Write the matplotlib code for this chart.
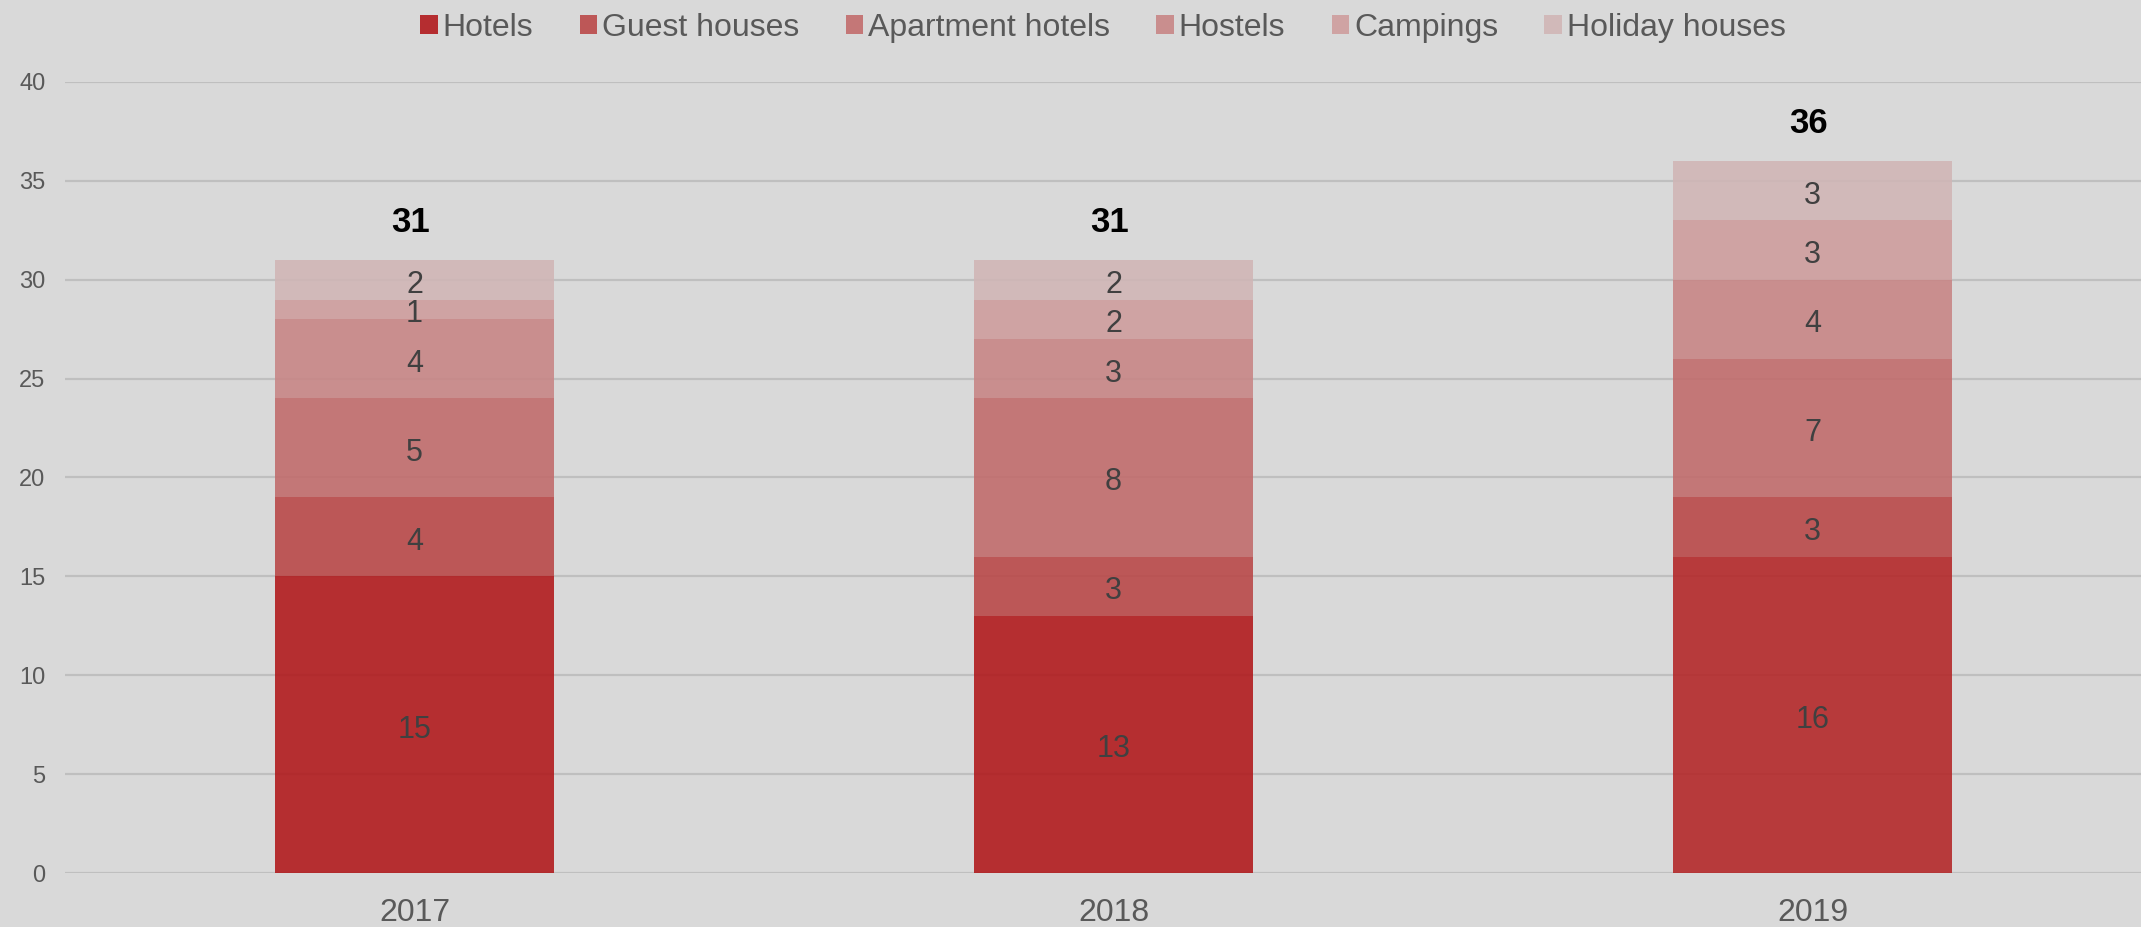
import matplotlib.pyplot as plt
import matplotlib.colors as mcolors
import numpy as np

plt.rcParams['font.family'] = ['Liberation Sans', 'DejaVu Sans']

years = ['2017', '2018', '2019']
categories = ['Hotels', 'Guest houses', 'Apartment hotels', 'Hostels', 'Campings', 'Holiday houses']
hotels = [15, 13, 16]
guest_houses = [4, 3, 3]
apartment_hotels = [5, 8, 7]
hostels = [4, 3, 4]
campings = [1, 2, 3]
holiday_houses = [2, 2, 3]
series = [hotels, guest_houses, apartment_hotels, hostels, campings, holiday_houses]
colors = [['#b52d30', '#b52d30', '#b83a3b'], '#bd5757', '#c47777', '#c98e8e', '#cfa3a3', '#d1b9b9']

bg = '#d9d9d9'
ALPHA = 0.88


def unblend(c):
    # base colour that gives c once laid at ALPHA over the background
    c = np.array(mcolors.to_rgb(c))
    b = np.array(mcolors.to_rgb(bg))
    return tuple(np.clip((c - (1 - ALPHA) * b) / ALPHA, 0, 1))


fig = plt.figure(figsize=(21.41, 9.27), dpi=100, facecolor=bg)
ax = fig.add_axes([65 / 2141, 1 - 873 / 927, 1 - 65 / 2141, (873 - 82) / 927])
ax.set_facecolor(bg)

x = np.arange(len(years))
bottom = np.zeros(len(years))
for name, vals, col in zip(categories, series, colors):
    vals = np.array(vals, dtype=float)
    if isinstance(col, list):
        fc = [unblend(c) for c in col]
    else:
        fc = unblend(col)
    ax.bar(x, vals, 0.4, bottom=bottom, color=fc, alpha=ALPHA, zorder=2)
    ax.bar([np.nan], [np.nan], color=col[0] if isinstance(col, list) else col, label=name)
    for xi, b, v in zip(x, bottom, vals):
        ax.annotate(f'{int(v)}', (xi, b + v / 2), xytext=(0, -5), textcoords='offset pixels',
                    ha='center', va='center', fontsize=22, color='#404040', zorder=4)
    bottom += vals

for xi, tot in zip(x, bottom):
    ax.annotate(f'{int(tot)}', (xi - 0.006, tot), xytext=(0, 21), textcoords='offset pixels',
                ha='center', va='bottom', fontsize=25, fontweight='bold', color='black')

ax.set_ylim(0, 40)
ax.set_xlim(-0.5, 2.47)
ax.set_yticks(range(0, 41, 5))
ax.set_xticks(x)
ax.set_xticklabels(years)
ax.yaxis.grid(True, color='#bfbfbf', lw=1.6, zorder=1)
ax.set_axisbelow(True)

for s in ax.spines.values():
    s.set_visible(False)
ax.tick_params(axis='y', length=0, labelsize=17, labelcolor='#595959', pad=14)
ax.tick_params(axis='x', length=0, labelsize=23, labelcolor='#595959', pad=18)

leg = fig.legend(loc='center', bbox_to_anchor=(1103 / 2141, 1 - 28 / 927), ncol=6,
                 frameon=False, fontsize=23, labelcolor='#595959',
                 handlelength=0.55, handleheight=0.55, handletextpad=0.15, columnspacing=1.45)

fig.savefig('out.png', dpi=100, facecolor=bg)
